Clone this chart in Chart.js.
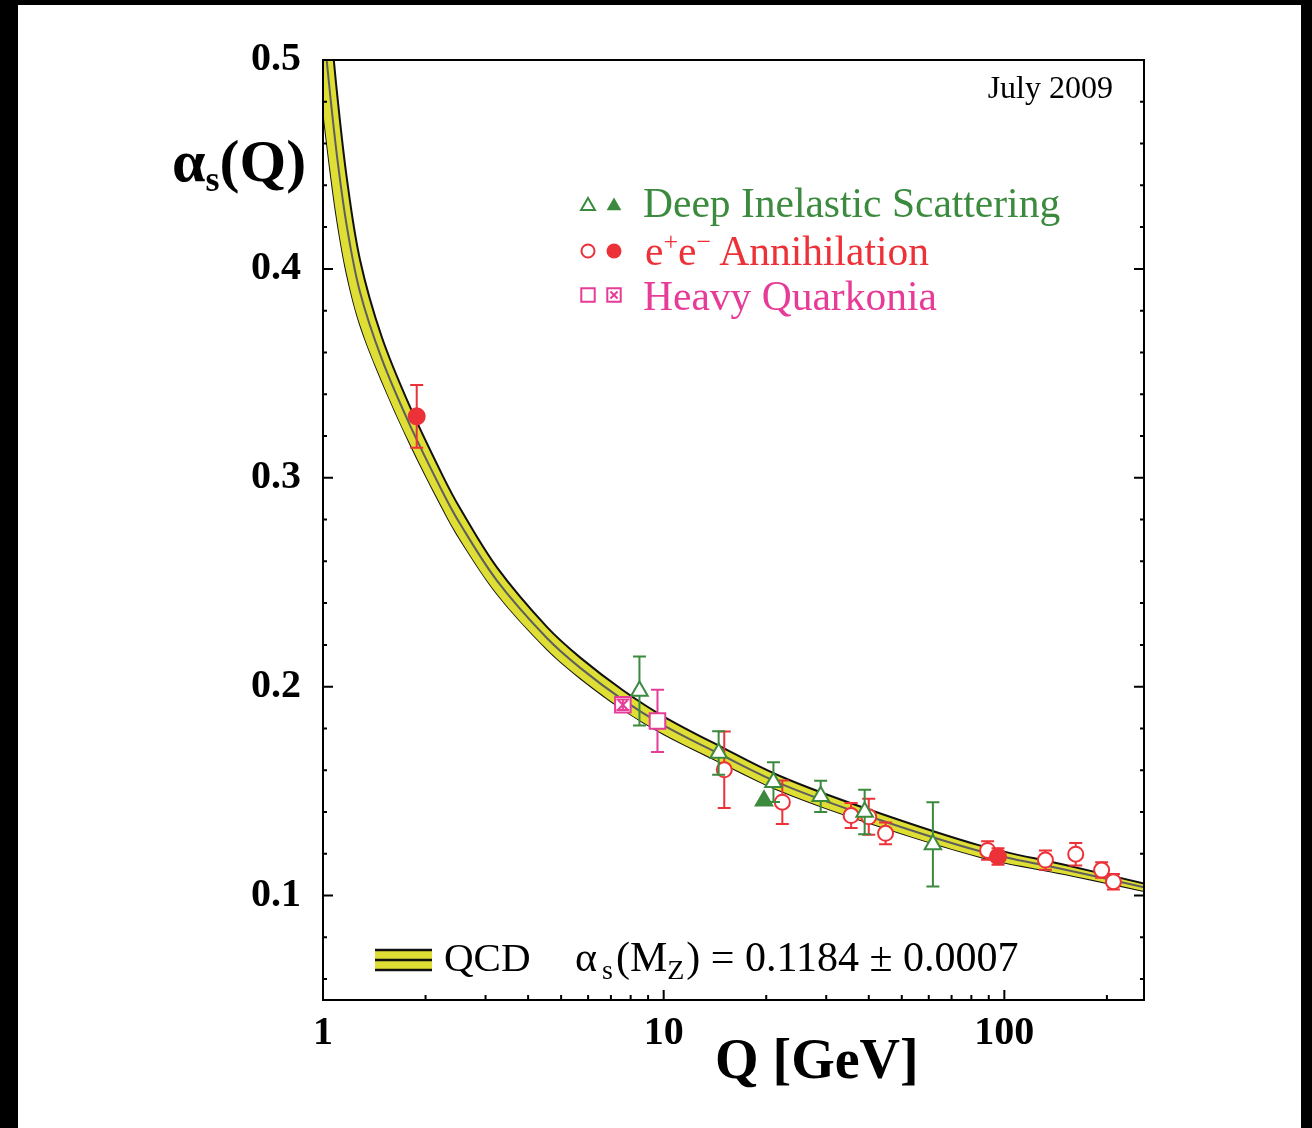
<!DOCTYPE html>
<html>
<head>
<meta charset="utf-8">
<script src="https://cdn.jsdelivr.net/npm/chart.js@4.4.1/dist/chart.umd.min.js"></script>
<style>
  html, body { margin: 0; padding: 0; background: #000; overflow: hidden; }
  #panel { position: absolute; left: 18px; top: 5px; width: 1283px; height: 1123px; background: #fff; }
  #myChart { position: absolute; left: 0; top: 0; }
</style>
</head>
<body>
<div id="panel"></div>
<canvas id="myChart" width="1312" height="1128"></canvas>
<script>
const ctx = document.getElementById("myChart");

// QCD running coupling band
const curveQ = [1.0, 1.048, 1.102, 1.174, 1.284, 1.487, 1.801, 2.256, 2.525, 3.24, 4.54, 5.69, 7.59, 10.0, 14.5, 22.1, 40.0, 85.0, 150, 257];
const curveAlpha = [0.518, 0.4844, 0.4526, 0.4207, 0.3889, 0.357, 0.3251, 0.2925, 0.278, 0.2508, 0.2233, 0.209, 0.1937, 0.1815, 0.168, 0.1535, 0.138, 0.1212, 0.1125, 0.104];
const curveErr = [0.042, 0.036, 0.030, 0.023, 0.0155, 0.0105, 0.0088, 0.0078, 0.0074, 0.0063, 0.0053, 0.0049, 0.0046, 0.0042, 0.0038, 0.0035, 0.0032, 0.0027, 0.0022, 0.0018];

// Deep inelastic scattering
const disQ = [8.49, 14.5, 21.0, 28.9, 38.9, 61.7];
const disAlpha = [0.1979, 0.1682, 0.1543, 0.1475, 0.140, 0.1245];
const disErr = [0.0165, 0.0104, 0.0095, 0.0075, 0.0107, 0.0202];
const disFullQ = [19.7];
const disFullAlpha = [0.1454];
const disFullErr = [0];

// e+e- annihilation
const eeQ = [15.06, 22.3, 35.5, 40.0, 44.8, 89.3, 132, 162, 193, 209];
const eeAlpha = [0.1602, 0.1447, 0.1383, 0.1377, 0.1298, 0.1216, 0.117, 0.1198, 0.1122, 0.1066];
const eeErr = [0.0183, 0.0104, 0.006, 0.0086, 0.0052, 0.0044, 0.0046, 0.0054, 0.0037, 0.0037];
const eeFullQ = [1.884, 95.8];
const eeFullAlpha = [0.3294, 0.1187];
const eeFullErr = [0.015, 0.004];

// heavy quarkonia
const hqQ = [9.59];
const hqAlpha = [0.1836];
const hqErr = [0.0149];
const hqCrossQ = [7.59];
const hqCrossAlpha = [0.1913];
const hqCrossErr = [0.0025];

// axis ticks
const yTickLabels = [0.1, 0.2, 0.3, 0.4, 0.5];
const xTickLabels = [1, 10, 100];
const xMinorTicks = [2, 3, 4, 5, 6, 7, 8, 9, 20, 30, 40, 50, 60, 70, 80, 90, 200];

const GREEN = "#3b8a3e";
const RED = "#ec3138";
const PINK = "#e63c98";
const YELLOW = "#dede34";
const SERIF = "'Liberation Serif', 'DejaVu Serif', serif";

function pts(qs, as) {
  return qs.map((q, i) => ({ x: q, y: as[i] }));
}

function markers(qs, as, errs, color, style, radius, filled) {
  return {
    data: pts(qs, as),
    errors: errs,
    showLine: false,
    borderColor: color,
    backgroundColor: filled ? color : "#fff",
    pointStyle: style,
    pointRadius: radius,
    pointBorderWidth: 2,
    pointBackgroundColor: filled ? color : "#fff",
    pointBorderColor: color,
    order: 1,
  };
}

// write a run of text pieces with sub/superscripts
function drawRuns(c, x, y, runs) {
  runs.forEach((r) => {
    c.font = r.font;
    c.fillText(r.t, x, y + (r.dy || 0));
    x += c.measureText(r.t).width + (r.gap || 0);
  });
  return x;
}

const decor = {
  id: "decor",
  beforeDatasetDraw(chart, args) {
    const ds = chart.data.datasets[args.index];
    if (!ds.errors) return;
    const c = chart.ctx;
    const { x, y } = chart.scales;
    c.save();
    c.strokeStyle = ds.borderColor;
    c.lineWidth = 2;
    ds.data.forEach((p, i) => {
      const e = ds.errors[i];
      if (!e) return;
      const px = x.getPixelForValue(p.x);
      const y1 = y.getPixelForValue(p.y + e);
      const y2 = y.getPixelForValue(p.y - e);
      c.beginPath();
      c.moveTo(px, y1);
      c.lineTo(px, y2);
      c.moveTo(px - 6.5, y1);
      c.lineTo(px + 6.5, y1);
      c.moveTo(px - 6.5, y2);
      c.lineTo(px + 6.5, y2);
      c.stroke();
    });
    c.restore();
  },
  afterDraw(chart) {
    const c = chart.ctx;
    const { left, right, top, bottom } = chart.chartArea;
    const { x, y } = chart.scales;
    c.save();

    // frame + inward ticks
    c.strokeStyle = "#000";
    c.lineWidth = 2;
    c.strokeRect(left, top, right - left, bottom - top);
    c.beginPath();
    for (let i = 3; i <= 25; i++) {
      const py = y.getPixelForValue(i * 0.02);
      const len = i % 5 === 0 ? 10 : 4;
      c.moveTo(left, py);
      c.lineTo(left + len, py);
      c.moveTo(right, py);
      c.lineTo(right - len, py);
    }
    xTickLabels.forEach((v) => {
      const px = x.getPixelForValue(v);
      c.moveTo(px, bottom);
      c.lineTo(px, bottom - 10);
    });
    xMinorTicks.forEach((v) => {
      const px = x.getPixelForValue(v);
      c.moveTo(px, bottom);
      c.lineTo(px, bottom - 5);
    });
    c.stroke();

    c.fillStyle = "#000";
    c.textBaseline = "alphabetic";

    // axis titles
    c.textAlign = "left";
    drawRuns(c, 172, 181, [
      { t: "α", font: "bold 60px " + SERIF },
      { t: "s", font: "bold 36px " + SERIF, dy: 10 },
      { t: "(Q)", font: "bold 60px " + SERIF },
    ]);
    c.font = "bold 56px " + SERIF;
    c.fillText("Q [GeV]", 715, 1078);

    c.textAlign = "right";
    c.font = "32px " + SERIF;
    c.fillText("July 2009", 1113, 98);
    c.textAlign = "left";

    // legend
    const H = Chart.helpers;
    const legendRows = [
      { y: 206, color: GREEN, a: { pointStyle: "triangle", radius: 8 }, b: { pointStyle: "triangle", radius: 8.5 } },
      { y: 251, color: RED, a: { pointStyle: "circle", radius: 6.5 }, b: { pointStyle: "circle", radius: 7.5 } },
      { y: 295, color: PINK, a: { pointStyle: "rect", radius: 9.5 }, b: { pointStyle: "rect", radius: 9.5 } },
    ];
    legendRows.forEach((r) => {
      c.lineWidth = 2;
      c.strokeStyle = r.color;
      c.fillStyle = "#fff";
      H.drawPoint(c, { ...r.a, rotation: 0, borderWidth: 2 }, 588, r.y);
      if (r.color === PINK) {
        c.fillStyle = "#fff";
        H.drawPoint(c, { ...r.b, rotation: 0, borderWidth: 2 }, 614, r.y);
        H.drawPoint(c, { pointStyle: "crossRot", radius: 5, rotation: 0, borderWidth: 2 }, 614, r.y);
      } else {
        c.fillStyle = r.color;
        H.drawPoint(c, { ...r.b, rotation: 0, borderWidth: 0 }, 614, r.y);
      }
    });
    const f41 = "41.5px " + SERIF;
    const f26 = "26px " + SERIF;
    c.fillStyle = GREEN;
    drawRuns(c, 643, 217, [{ t: "Deep Inelastic Scattering", font: f41 }]);
    c.fillStyle = RED;
    drawRuns(c, 645, 265, [
      { t: "e", font: f41 },
      { t: "+", font: f26, dy: -15 },
      { t: "e", font: f41 },
      { t: "−", font: f26, dy: -15, gap: 8 },
      { t: "Annihilation", font: f41 },
    ]);
    c.fillStyle = PINK;
    drawRuns(c, 643, 310, [{ t: "Heavy Quarkonia", font: f41 }]);

    // QCD band key
    c.fillStyle = YELLOW;
    c.fillRect(375, 949, 57, 22);
    c.strokeStyle = "#111";
    c.lineWidth = 2.5;
    c.beginPath();
    [950, 960, 970].forEach((yy) => {
      c.moveTo(375, yy);
      c.lineTo(432, yy);
    });
    c.stroke();
    c.fillStyle = "#000";
    const f42 = "42px " + SERIF;
    const f28 = "28px " + SERIF;
    drawRuns(c, 444, 971, [{ t: "QCD", font: "41px " + SERIF }]);
    drawRuns(c, 575, 971, [
      { t: "α", font: f42, gap: 5 },
      { t: "s", font: f28, dy: 8, gap: 3 },
      { t: "(M", font: f42 },
      { t: "Z", font: f28, dy: 8, gap: 2 },
      { t: ") = 0.1184 ± 0.0007", font: f42 },
    ]);

    c.restore();
  },
};

const bandLine = {
  pointRadius: 0,
  tension: 0.35,
  clip: 0,
};

const myChart = new Chart(ctx, {
  type: "line",
  data: {
    datasets: [
      markers(hqCrossQ, hqCrossAlpha, hqCrossErr, PINK, "crossRot", 6.5, false),
      markers(hqCrossQ, hqCrossAlpha, [0], PINK, "rect", 11, false),
      markers(hqQ, hqAlpha, hqErr, PINK, "rect", 11, false),
      markers(disFullQ, disFullAlpha, disFullErr, GREEN, "triangle", 9.5, true),
      markers(disQ, disAlpha, disErr, GREEN, "triangle", 9.5, false),
      markers(eeFullQ, eeFullAlpha, eeFullErr, RED, "circle", 8, true),
      markers(eeQ, eeAlpha, eeErr, RED, "circle", 7.5, false),
      {
        ...bandLine,
        data: pts(curveQ, curveAlpha),
        borderColor: "#5e5e5e",
        borderWidth: 2,
        fill: false,
        order: 10,
      },
      {
        ...bandLine,
        data: pts(curveQ, curveAlpha.map((a, i) => a + curveErr[i])),
        borderColor: "#111",
        borderWidth: 2,
        backgroundColor: YELLOW,
        fill: "+1",
        order: 11,
      },
      {
        ...bandLine,
        data: pts(curveQ, curveAlpha.map((a, i) => a - curveErr[i])),
        borderColor: "#111",
        borderWidth: 2,
        fill: false,
        order: 12,
      },
    ],
  },
  options: {
    responsive: false,
    animation: false,
    layout: { padding: { left: 0, top: 60, right: 168, bottom: 0 } },
    plugins: {
      legend: { display: false },
      tooltip: { enabled: false },
    },
    scales: {
      x: {
        type: "logarithmic",
        min: 1,
        max: 257,
        grid: { display: false },
        border: { display: false },
        afterBuildTicks: (s) => {
          s.ticks = xTickLabels.map((v) => ({ value: v }));
        },
        afterFit: (s) => {
          s.height = 128;
        },
        ticks: {
          autoSkip: false,
          maxRotation: 0,
          padding: 2,
          color: "#000",
          font: { family: SERIF, size: 40, weight: "bold" },
          callback: (v) => String(v),
        },
      },
      y: {
        min: 0.05,
        max: 0.5,
        grid: { display: false },
        border: { display: false },
        afterBuildTicks: (s) => {
          s.ticks = yTickLabels.map((v) => ({ value: v }));
        },
        afterFit: (s) => {
          s.width = 323;
        },
        ticks: {
          padding: 14,
          color: "#000",
          font: { family: SERIF, size: 40, weight: "bold" },
          callback: (v) => v.toFixed(1),
        },
      },
    },
  },
  plugins: [decor],
});
</script>
</body>
</html>
